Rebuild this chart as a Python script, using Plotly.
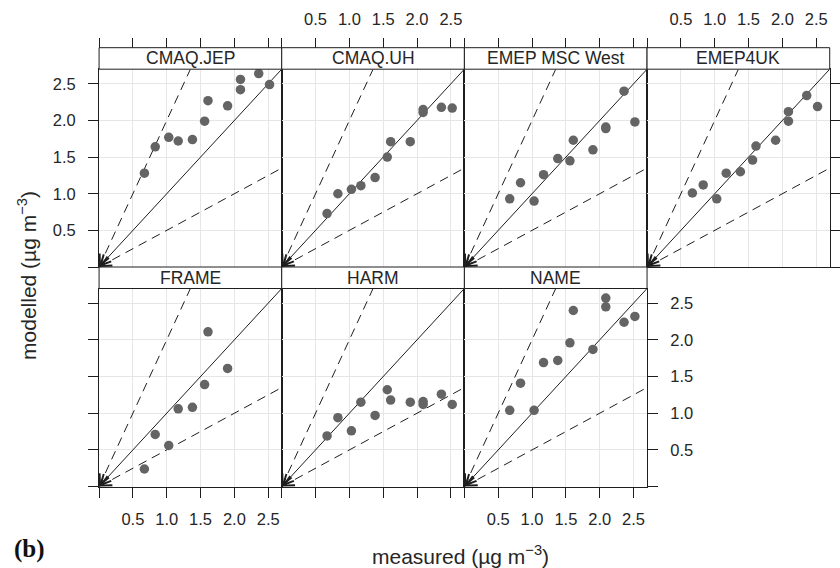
import math
import plotly.graph_objects as go

# ---------------- data ----------------
panel_names = ["CMAQ.JEP", "CMAQ.UH", "EMEP MSC West", "EMEP4UK", "FRAME", "HARM", "NAME"]
measured = [0.67, 0.83, 1.03, 1.17, 1.38, 1.56, 1.61, 1.90, 2.09, 2.09, 2.36, 2.52]
measured_frame = [0.67, 0.83, 1.03, 1.17, 1.38, 1.56, 1.61, 1.90]
cmaq_jep = [1.28, 1.64, 1.77, 1.72, 1.74, 1.99, 2.27, 2.20, 2.42, 2.56, 2.64, 2.49]
cmaq_uh = [0.73, 1.00, 1.06, 1.11, 1.22, 1.50, 1.71, 1.71, 2.11, 2.15, 2.18, 2.17]
emep_msc_west = [0.93, 1.15, 0.90, 1.26, 1.48, 1.45, 1.73, 1.60, 1.91, 1.89, 2.40, 1.98]
emep4uk = [1.01, 1.12, 0.93, 1.28, 1.30, 1.46, 1.65, 1.73, 2.12, 1.99, 2.34, 2.19]
frame = [0.24, 0.71, 0.56, 1.06, 1.08, 1.39, 2.11, 1.61]
harm = [0.69, 0.94, 0.76, 1.15, 0.97, 1.32, 1.18, 1.15, 1.16, 1.12, 1.26, 1.12]
name_model = [1.04, 1.41, 1.04, 1.69, 1.72, 1.96, 2.40, 1.87, 2.45, 2.57, 2.24, 2.32]
tick_values = [0, 0.5, 1.0, 1.5, 2.0, 2.5]
tick_labels = ["", "0.5", "1.0", "1.5", "2.0", "2.5"]
ref_slopes = [1.0, 2.0, 0.5]
axis_max = 2.7

panel_x = [measured, measured, measured, measured, measured_frame, measured, measured]
panel_y = [cmaq_jep, cmaq_uh, emep_msc_west, emep4uk, frame, harm, name_model]

# ---------------- layout geometry ----------------
W, H = 840, 568
def fx(p):
    return p / W
def fy(p):
    return 1 - p / H

COL_EDGES = [99.3, 282.4, 465.5, 648.6, 831.7]
ROWS = [(47.7, 69.2, 267.0), (267.0, 288.5, 486.6)]  # strip top, plot top, plot bottom
POS = [(0, 0), (0, 1), (0, 2), (0, 3), (1, 0), (1, 1), (1, 2)]

FONT = "Liberation Sans, Arial, sans-serif"
INK = "#1e1e1e"
TXT = "#262626"
GRID = "#e6e6e6"
PT = "#646464"
DASH = "9px,6px"

fig = go.Figure()
layout = dict(
    width=W, height=H, margin=dict(l=0, r=0, t=0, b=0),
    plot_bgcolor="white", paper_bgcolor="white", showlegend=False,
    font=dict(family=FONT, color=TXT),
)
shapes = []
annotations = []

for i, name in enumerate(panel_names):
    k = i + 1
    r, c = POS[i]
    xa = "x" if k == 1 else f"x{k}"
    ya = "y" if k == 1 else f"y{k}"
    xl, xr = COL_EDGES[c], COL_EDGES[c + 1]
    st, pt, pb = ROWS[r]

    # reference lines y = s*x
    for s in ref_slopes:
        xe = min(axis_max, axis_max / s)
        fig.add_trace(go.Scatter(
            x=[0, xe], y=[0, xe * s], mode="lines",
            line=dict(color=INK, width=1, dash="solid" if s == 1 else DASH),
            xaxis=xa, yaxis=ya, hoverinfo="skip", cliponaxis=False))
    # points
    fig.add_trace(go.Scatter(
        x=panel_x[i], y=panel_y[i], mode="markers",
        marker=dict(size=9.5, color=PT, line=dict(width=0)),
        xaxis=xa, yaxis=ya, cliponaxis=False))

    bottom_ticks = (r == 1)
    xaxis = dict(
        domain=[fx(xl), fx(xr)], anchor=ya, range=[0, axis_max],
        showline=True, mirror=True, linecolor=INK, linewidth=1,
        showgrid=True, gridcolor=GRID, gridwidth=1, zeroline=False,
        tickmode="array", tickvals=tick_values, ticktext=tick_labels,
        ticks="outside" if bottom_ticks else "", ticklen=10, tickwidth=1, tickcolor=INK,
        showticklabels=(k in (5, 7)), tickfont=dict(family=FONT, size=16.5, color=TXT),
        ticklabelstandoff=8,
    )
    right_side = k in (4, 7)
    left_side = c == 0
    yaxis = dict(
        domain=[fy(pb), fy(pt)], anchor=xa, range=[0, axis_max],
        showline=True, mirror=True, linecolor=INK, linewidth=1,
        showgrid=True, gridcolor=GRID, gridwidth=1, zeroline=False,
        tickmode="array", tickvals=tick_values, ticktext=tick_labels,
        side="right" if right_side else "left",
        ticks="outside" if (right_side or left_side) else "", ticklen=10, tickwidth=1, tickcolor=INK,
        showticklabels=(k in (1, 7)), tickfont=dict(family=FONT, size=16.5, color=TXT),
        ticklabelstandoff=9,
    )
    layout["xaxis" if k == 1 else f"xaxis{k}"] = xaxis
    layout["yaxis" if k == 1 else f"yaxis{k}"] = yaxis

    # top tick axes for first row, placed above the strip
    if r == 0:
        kt = 8 + i
        layout[f"xaxis{kt}"] = dict(
            overlaying=xa, side="top", anchor="free", position=fy(st),
            range=[0, axis_max], showline=False, showgrid=False, zeroline=False,
            tickmode="array", tickvals=tick_values, ticktext=tick_labels,
            ticks="outside", ticklen=10, tickwidth=1, tickcolor=INK,
            showticklabels=(k in (2, 4)), tickfont=dict(family=FONT, size=16.5, color=TXT),
            ticklabelstandoff=6,
        )
        fig.add_trace(go.Scatter(x=[], y=[], xaxis=f"x{kt}", yaxis=ya, hoverinfo="skip"))

    # strip
    shapes.append(dict(type="rect", xref="paper", yref="paper",
                       x0=fx(xl), x1=fx(xr), y0=fy(pt), y1=fy(st),
                       line=dict(color=INK, width=1), fillcolor="white", layer="above"))
    annotations.append(dict(text=name, xref="paper", yref="paper",
                            x=fx((xl + xr) / 2), y=fy((st + pt) / 2),
                            showarrow=False, xanchor="center", yanchor="middle",
                            font=dict(family=FONT, size=17.5, color=TXT)))

    # arrowheads at the origin
    ppx = (xr - xl) / axis_max
    ppy = (pb - pt) / axis_max
    for s in ref_slopes:
        dx, dy = ppx, -ppy * s
        n = math.hypot(dx, dy)
        L = 10
        annotations.append(dict(x=0, y=0, xref=xa, yref=ya, text="",
                                showarrow=True, ax=L * dx / n, ay=L * dy / n,
                                axref="pixel", ayref="pixel",
                                arrowhead=5, arrowsize=2.0, arrowwidth=1,
                                arrowcolor=INK, standoff=0))

# axis titles and panel label
annotations.append(dict(text="measured (µg m<sup>−3</sup>)", xref="paper", yref="paper",
                        x=fx(462), y=fy(555), showarrow=False,
                        xanchor="center", yanchor="middle",
                        font=dict(family=FONT, size=21, color=TXT)))
annotations.append(dict(text="modelled (µg m<sup>−3</sup>)", xref="paper", yref="paper",
                        x=fx(27), y=fy(275), showarrow=False, textangle=-90,
                        xanchor="center", yanchor="middle",
                        font=dict(family=FONT, size=21, color=TXT)))
annotations.append(dict(text="<b>(b)</b>", xref="paper", yref="paper",
                        x=fx(30), y=fy(549), showarrow=False,
                        xanchor="center", yanchor="middle",
                        font=dict(family="Liberation Serif, Times New Roman, serif", size=25, color="#111")))

layout["shapes"] = shapes
layout["annotations"] = annotations
fig.update_layout(**layout)
fig.write_html("out.html", config={"displayModeBar": False},
               post_script="document.body.style.margin='0';document.body.style.overflow='hidden';")
